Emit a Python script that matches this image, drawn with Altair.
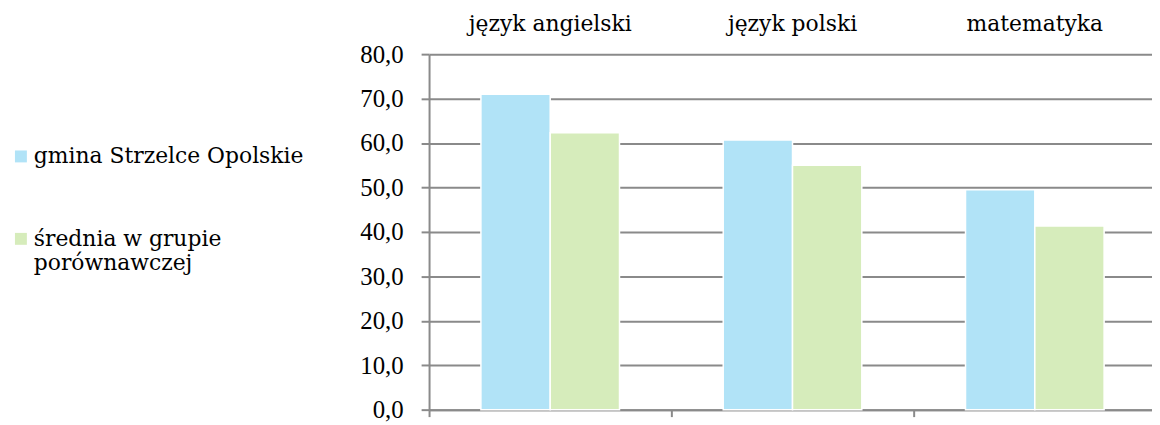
import altair as alt
import pandas as pd

subjects = ["język angielski", "język polski", "matematyka"]
series = ["gmina Strzelce Opolskie", "średnia w grupie porównawczej"]
gmina = [71.0, 60.7, 49.5]
srednia = [62.3, 55.0, 41.3]
colors = ["#b1e3f7", "#d6ecbb"]
boundaries = [0, 1, 2]

rows = []
for i, s in enumerate(subjects):
    rows.append({"przedmiot": s, "seria": series[0], "wartosc": gmina[i], "pos": i})
    rows.append({"przedmiot": s, "seria": series[1], "wartosc": srednia[i], "pos": i})
df = pd.DataFrame(rows)

GRID = "#8a8a8a"
xscale = alt.Scale(domain=subjects, range=[0, 732], paddingInner=0.428, paddingOuter=0.214)
yscale = alt.Scale(domain=[0, 80])

bars = alt.Chart(df).mark_bar(stroke="white", strokeWidth=1.5).encode(
    x=alt.X("przedmiot:N", sort=subjects, scale=xscale,
            axis=alt.Axis(orient="top", title=None, domain=False, ticks=False,
                          labelAngle=0, labelFont="DejaVu Serif", labelFontSize=22,
                          labelColor="black", labelPadding=19)),
    xOffset=alt.XOffset("seria:N", sort=series,
                        scale=alt.Scale(domain=series, paddingInner=0, paddingOuter=0)),
    y=alt.Y("wartosc:Q", scale=yscale,
            axis=alt.Axis(title=None, values=list(range(0, 81, 10)),
                          labelExpr="replace(format(datum.value,'.1f'),'.',',')",
                          labelFont="Liberation Serif", labelFontSize=25, labelColor="black",
                          labelPadding=18, tickSize=8, tickColor=GRID, tickWidth=2,
                          domainColor=GRID, domainWidth=2,
                          gridColor=GRID, gridWidth=2)),
    color=alt.Color("seria:N", sort=series,
                    scale=alt.Scale(domain=series, range=colors),
                    legend=alt.Legend(title=None, orient="none", legendX=-422, legendY=92,
                                      symbolType="square", symbolSize=144,
                                      symbolStrokeWidth=0, labelFont="DejaVu Serif",
                                      labelFontSize=22, labelColor="black",
                                      labelLimit=400, rowPadding=61, labelOffset=2,
                                      labelExpr="indexof(datum.label,'średnia')==0 ? ['średnia w grupie','porównawczej'] : datum.label")),
)

base_axis = alt.Chart(df).mark_point(opacity=0).encode(
    x=alt.X("pos:Q", scale=alt.Scale(domain=[0, 3], range=[0, 732], nice=False, zero=False),
            axis=alt.Axis(orient="bottom", title=None, labels=False, domain=True,
                          values=boundaries,
                          domainColor=GRID, domainWidth=2, ticks=True,
                          tickSize=7, tickColor=GRID, tickWidth=2, grid=False)),
    y=alt.Y("wartosc:Q", scale=yscale),
)

chart = alt.layer(bars, base_axis).resolve_scale(x="independent").resolve_axis(x="independent").properties(
    width=728, height=358,
    autosize=alt.AutoSizeParams(type="none"),
    padding={"left": 424, "top": 45, "right": 0, "bottom": 16},
    background="white",
).configure_view(stroke=None)

chart.save("out.html", embed_options={"renderer": "svg", "actions": False})
